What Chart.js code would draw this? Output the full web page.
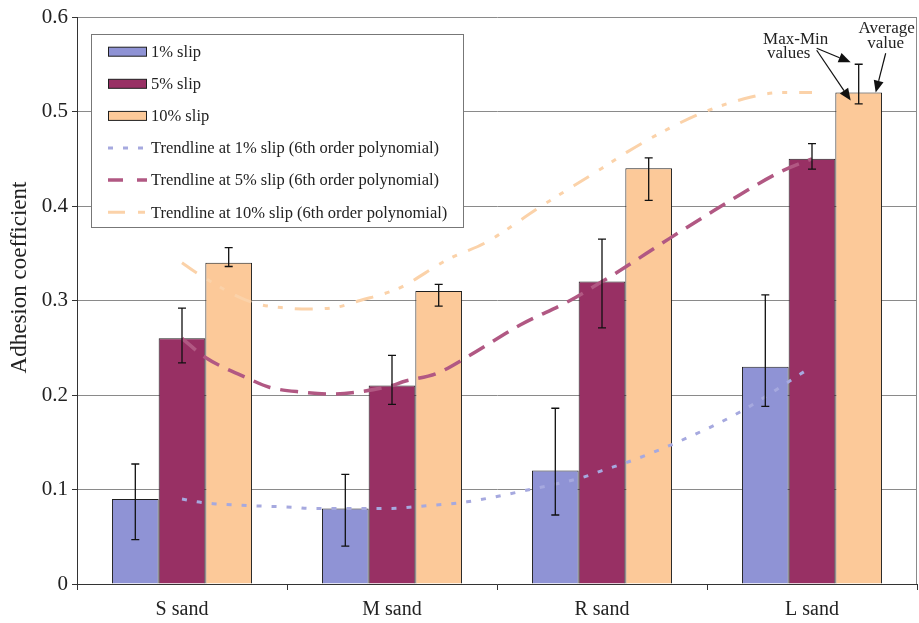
<!DOCTYPE html>
<html>
<head>
<meta charset="utf-8">
<script src="https://cdn.jsdelivr.net/npm/chart.js@4/dist/chart.umd.min.js"></script>
<style>
  html, body { margin: 0; padding: 0; background: #fff; }
  #c { display: block; }
</style>
</head>
<body>
<canvas id="c" width="919" height="623"></canvas>
<script>
// Sand types and mean adhesion coefficient per slip ratio
const categories = ['S sand', 'M sand', 'R sand', 'L sand'];
const slip1  = [0.09, 0.08, 0.12, 0.23];
const slip5  = [0.26, 0.21, 0.32, 0.45];
const slip10 = [0.34, 0.31, 0.44, 0.52];

// Max / min measured values (error bars)
const slip1Max  = [0.127, 0.116, 0.186, 0.306];
const slip1Min  = [0.047, 0.040, 0.073, 0.188];
const slip5Max  = [0.292, 0.242, 0.365, 0.466];
const slip5Min  = [0.234, 0.190, 0.271, 0.439];
const slip10Max = [0.356, 0.317, 0.451, 0.550];
const slip10Min = [0.336, 0.294, 0.406, 0.508];

const yTickLabels = ['0', '0.1', '0.2', '0.3', '0.4', '0.5', '0.6'];
const yTitle = 'Adhesion coefficient';

// Polynomial trendline samples; x in category units (0 = S sand ... 3 = L sand)
const trend1X = [0, 0.071, 0.148, 0.310, 0.548, 0.600, 0.933, 1.0, 1.119, 1.357, 1.657, 1.910, 2.0, 2.148, 2.419, 2.657, 3.0];
const trend1Y = [0.090, 0.087, 0.085, 0.083, 0.081, 0.080, 0.080, 0.080, 0.082, 0.087, 0.100, 0.113, 0.120, 0.131, 0.156, 0.182, 0.230];
const trend5X = [0, 0.110, 0.310, 0.419, 0.576, 0.719, 0.833, 1.0, 1.052, 1.214, 1.371, 1.610, 1.848, 2.0, 2.052, 2.324, 2.510, 2.657, 2.848, 3.0];
const trend5Y = [0.260, 0.240, 0.218, 0.208, 0.203, 0.201, 0.203, 0.210, 0.214, 0.223, 0.242, 0.274, 0.300, 0.320, 0.327, 0.366, 0.392, 0.412, 0.436, 0.450];
const trend10X = [0, 0.071, 0.333, 0.5, 0.610, 0.738, 0.848, 1.0, 1.052, 1.262, 1.452, 1.705, 2.0, 2.119, 2.276, 2.481, 2.705, 2.848, 3.0];
const trend10Y = [0.340, 0.329, 0.298, 0.292, 0.291, 0.293, 0.300, 0.310, 0.315, 0.343, 0.362, 0.399, 0.440, 0.457, 0.477, 0.499, 0.515, 0.520, 0.520];

const FONT = 'Liberation Serif';
const INK = '#1f1f1f';

const toPoints = (xs, ys) => xs.map((x, i) => ({ x: x, y: ys[i] }));
const byCategory = (vals) => vals.map((v, i) => ({ x: i, y: v }));

// Max-min whiskers on each bar
const errorBars = {
  id: 'errorBars',
  afterDatasetsDraw(chart) {
    const { ctx, scales: { y } } = chart;
    chart.data.datasets.forEach((ds, di) => {
      if (!ds.errMax) return;
      chart.getDatasetMeta(di).data.forEach((bar, i) => {
        const yt = y.getPixelForValue(ds.errMax[i]);
        const yb = y.getPixelForValue(ds.errMin[i]);
        ctx.save();
        ctx.strokeStyle = '#111';
        ctx.lineWidth = 1.3;
        ctx.beginPath();
        ctx.moveTo(bar.x, yt); ctx.lineTo(bar.x, yb);
        ctx.moveTo(bar.x - 4, yt); ctx.lineTo(bar.x + 4, yt);
        ctx.moveTo(bar.x - 4, yb); ctx.lineTo(bar.x + 4, yb);
        ctx.stroke();
        ctx.restore();
      });
    });
  }
};

// Right edge of the plot frame
const frame = {
  id: 'frame',
  beforeDatasetsDraw(chart) {
    const { ctx, chartArea: a } = chart;
    ctx.save();
    ctx.strokeStyle = '#8a8a8a';
    ctx.lineWidth = 1;
    ctx.beginPath();
    ctx.moveTo(a.right - 0.5, a.top);
    ctx.lineTo(a.right - 0.5, a.bottom);
    ctx.stroke();
    ctx.restore();
  }
};

// Vertical axis title, set slightly above the middle of the plot
const axisTitle = {
  id: 'axisTitle',
  afterDraw(chart) {
    const { ctx, chartArea: a } = chart;
    ctx.save();
    ctx.translate(20, (a.top + a.bottom) / 2 - 23);
    ctx.rotate(-Math.PI / 2);
    ctx.font = '23px "' + FONT + '"';
    ctx.fillStyle = '#222';
    ctx.textAlign = 'center';
    ctx.textBaseline = 'middle';
    ctx.fillText(yTitle, 0, 0);
    ctx.restore();
  }
};

// Boxed legend inside the plot area
const boxLegend = {
  id: 'boxLegend',
  afterDraw(chart) {
    const ctx = chart.ctx;
    const bx = 91, by = 34, bw = 372, bh = 193;
    ctx.save();
    ctx.fillStyle = '#fff';
    ctx.fillRect(bx, by, bw, bh);
    ctx.strokeStyle = '#777';
    ctx.lineWidth = 1;
    ctx.strokeRect(bx + 0.5, by + 0.5, bw, bh);
    ctx.font = '16.5px "' + FONT + '"';
    ctx.textBaseline = 'middle';
    chart.data.datasets.forEach((ds, i) => {
      const cy = 51.7 + i * 32.1;
      if (ds.type === 'line') {
        ctx.strokeStyle = ds.borderColor;
        ctx.lineWidth = ds.borderWidth;
        ctx.setLineDash(ds.legendDash);
        ctx.beginPath();
        ctx.moveTo(108, cy);
        ctx.lineTo(147, cy);
        ctx.stroke();
        ctx.setLineDash([]);
      } else {
        ctx.fillStyle = ds.backgroundColor;
        ctx.fillRect(108, cy - 4.5, 39, 9);
        ctx.strokeStyle = INK;
        ctx.lineWidth = 1;
        ctx.strokeRect(108.5, cy - 4.5, 38, 9);
      }
      ctx.fillStyle = '#222';
      ctx.fillText(ds.label, 151, cy + 1);
    });
    ctx.restore();
  }
};

// Callouts explaining the whisker and bar height on the L sand 10% bar
const callouts = {
  id: 'callouts',
  afterDraw(chart) {
    const ctx = chart.ctx;
    const y = chart.scales.y;
    const bar = chart.getDatasetMeta(2).data[3];
    const ds = chart.data.datasets[2];
    const bx = bar.x, top = y.getPixelForValue(ds.errMax[3]), by = bar.y;
    ctx.save();
    ctx.fillStyle = '#222';
    ctx.font = '17px "' + FONT + '"';
    ctx.textAlign = 'center';
    ctx.textBaseline = 'middle';
    ctx.fillText('Max-Min', bx - 63, top - 25);
    ctx.fillText('values', bx - 70, top - 11);
    ctx.fillText('Average', bx + 28, top - 36);
    ctx.fillText('value', bx + 27, top - 21);
    const arrow = (x1, y1, x2, y2) => {
      const ang = Math.atan2(y2 - y1, x2 - x1);
      const L = 12, W = 5;
      const bxp = x2 - L * Math.cos(ang), byp = y2 - L * Math.sin(ang);
      ctx.strokeStyle = '#111';
      ctx.lineWidth = 1.2;
      ctx.beginPath(); ctx.moveTo(x1, y1); ctx.lineTo(bxp, byp); ctx.stroke();
      ctx.fillStyle = '#111';
      ctx.beginPath();
      ctx.moveTo(x2, y2);
      ctx.lineTo(bxp + W * Math.sin(ang), byp - W * Math.cos(ang));
      ctx.lineTo(bxp - W * Math.sin(ang), byp + W * Math.cos(ang));
      ctx.closePath();
      ctx.fill();
    };
    arrow(bx - 42, top - 16, bx - 8, top - 2);
    arrow(bx - 42, top - 14, bx - 8, by + 8);
    arrow(bx + 27, top - 11, bx + 17, by);
    ctx.restore();
  }
};

new Chart(document.getElementById('c'), {
  type: 'bar',
  data: {
    datasets: [
      { label: '1% slip', data: byCategory(slip1), errMax: slip1Max, errMin: slip1Min,
        backgroundColor: '#8f93d5', borderColor: INK, borderWidth: 1, order: 2 },
      { label: '5% slip', data: byCategory(slip5), errMax: slip5Max, errMin: slip5Min,
        backgroundColor: '#983064', borderColor: INK, borderWidth: 1, order: 2 },
      { label: '10% slip', data: byCategory(slip10), errMax: slip10Max, errMin: slip10Min,
        backgroundColor: '#fcc999', borderColor: INK, borderWidth: 1, order: 2 },
      { type: 'line', label: 'Trendline at 1% slip (6th order polynomial)',
        data: toPoints(trend1X, trend1Y),
        borderColor: '#a6a9df', borderWidth: 3, borderDash: [5, 10], legendDash: [5, 10],
        pointRadius: 0, fill: false, cubicInterpolationMode: 'monotone', order: 1 },
      { type: 'line', label: 'Trendline at 5% slip (6th order polynomial)',
        data: toPoints(trend5X, trend5Y),
        borderColor: '#b15883', borderWidth: 3.5, borderDash: [18, 10], legendDash: [15, 14],
        pointRadius: 0, fill: false, cubicInterpolationMode: 'monotone', order: 1 },
      { type: 'line', label: 'Trendline at 10% slip (6th order polynomial)',
        data: toPoints(trend10X, trend10Y),
        borderColor: '#fbd2a9', borderWidth: 3, borderDash: [18, 12, 5, 10, 5, 12], legendDash: [17, 13, 7, 20],
        pointRadius: 0, fill: false, cubicInterpolationMode: 'monotone', order: 1 }
    ]
  },
  options: {
    responsive: false,
    animation: false,
    layout: { padding: { left: 0, right: 2, top: 17, bottom: 0 } },
    datasets: { bar: { categoryPercentage: 0.667, barPercentage: 1.0 } },
    plugins: { legend: { display: false }, tooltip: { enabled: false } },
    scales: {
      x: {
        type: 'linear',
        min: -0.5, max: 3.5,
        offset: false,
        afterBuildTicks(s) { s.ticks = categories.map((_, i) => ({ value: i })); },
        grid: { offset: true, drawOnChartArea: false, drawTicks: true, tickLength: 6, color: '#333' },
        border: { color: '#333', width: 1 },
        ticks: {
          callback: (v) => categories[v],
          font: { family: FONT, size: 20 }, color: '#222', padding: 8,
          maxRotation: 0, autoSkip: false
        },
        afterFit(s) { s.height = 39; }
      },
      y: {
        min: 0, max: 0.6,
        ticks: {
          stepSize: 0.1,
          callback: (v, i) => yTickLabels[i],
          font: { family: FONT, size: 21 }, color: '#222', padding: 4
        },
        grid: { color: '#8a8a8a', lineWidth: 1, tickLength: 5, tickColor: '#333' },
        border: { color: '#333', width: 1 },
        afterFit(s) { s.width = 77; }
      }
    }
  },
  plugins: [frame, errorBars, boxLegend, callouts, axisTitle]
});
</script>
</body>
</html>
